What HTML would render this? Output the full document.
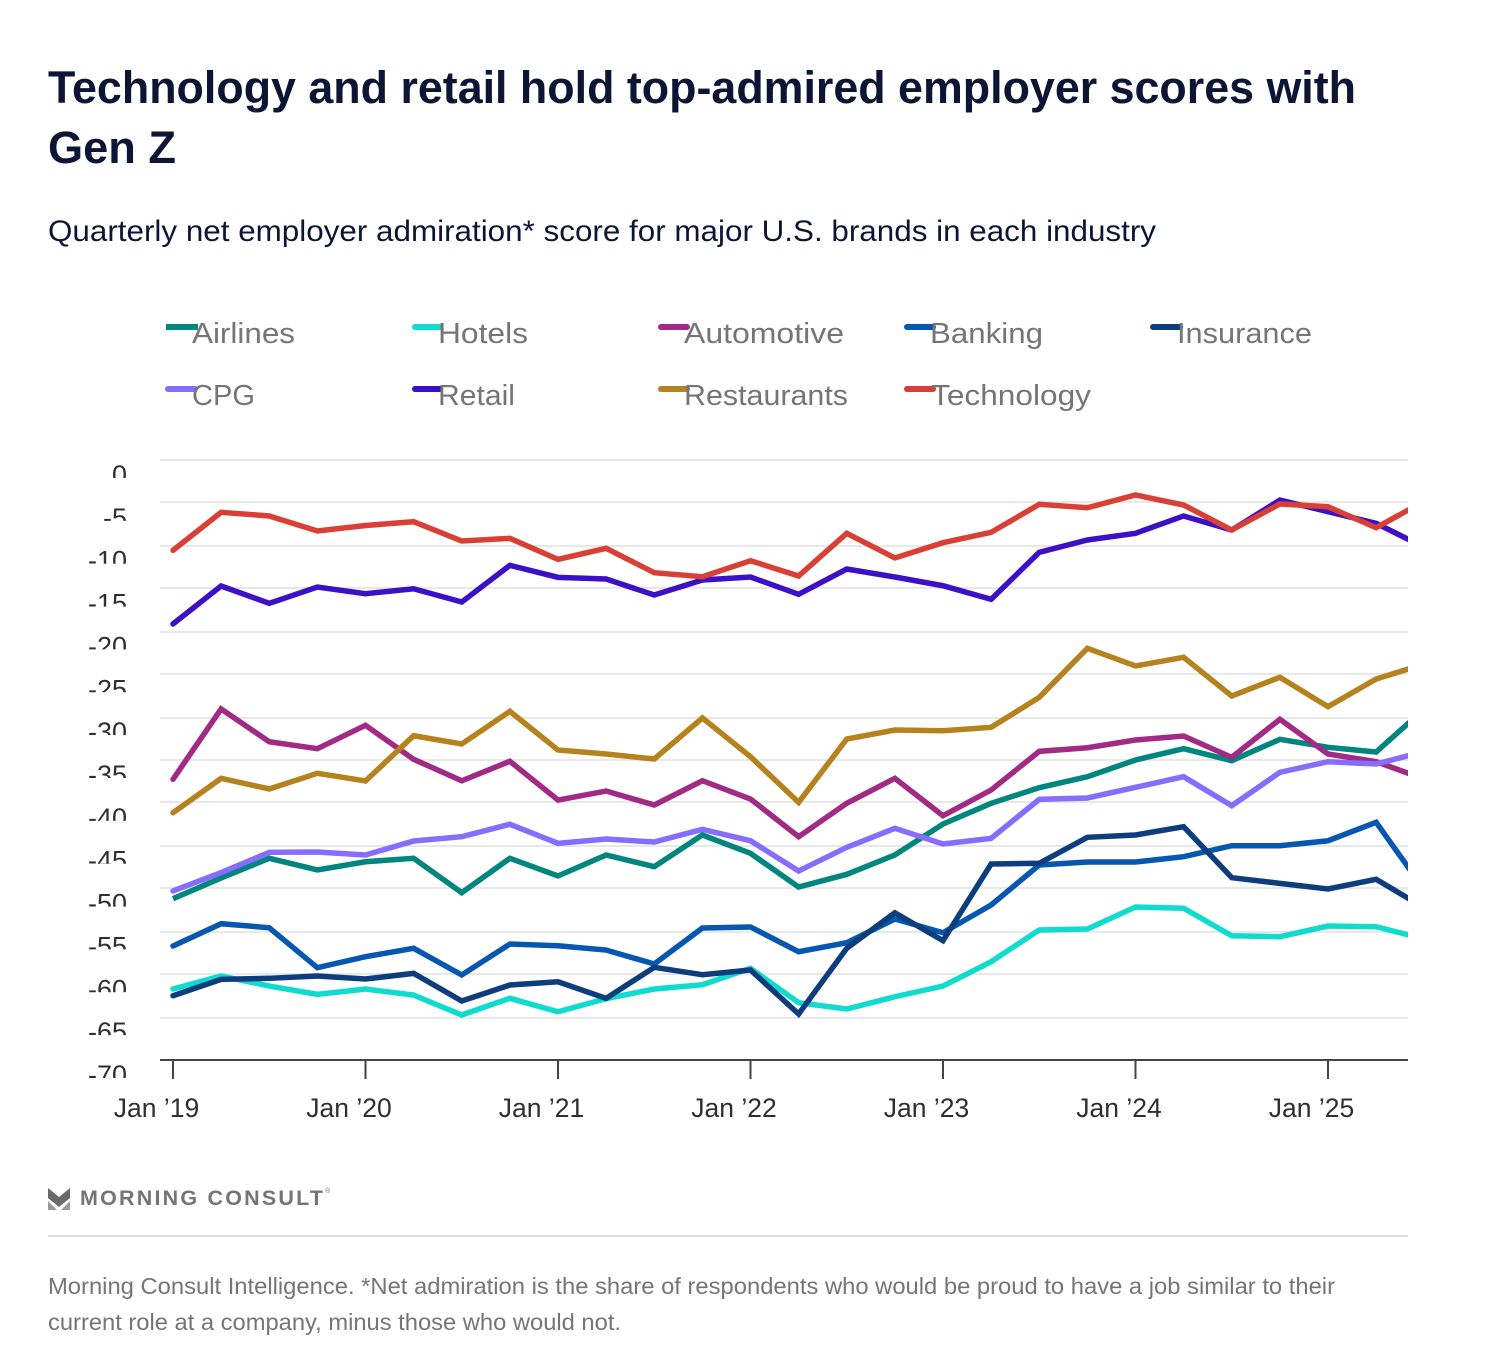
<!DOCTYPE html>
<html lang="en">
<head>
<meta charset="utf-8">
<title>Technology and retail hold top-admired employer scores with Gen Z</title>
<style>
  html, body { margin: 0; padding: 0; background: #fff; }
  svg { display: block; font-family: "Liberation Sans", Arial, sans-serif; }
</style>
</head>
<body>
<svg id="chart" xmlns="http://www.w3.org/2000/svg" width="1488" height="1370" viewBox="0 0 1488 1370">
  <rect x="0" y="0" width="1488" height="1370" fill="#ffffff"/>
  <text x="48" y="103" font-size="45" font-weight="700" fill="#0c1534" textLength="1308" lengthAdjust="spacingAndGlyphs">Technology and retail hold top-admired employer scores with</text>
  <text x="48" y="163" font-size="45" font-weight="700" fill="#0c1534" textLength="128" lengthAdjust="spacingAndGlyphs">Gen Z</text>
  <text x="48" y="241" font-size="30" fill="#0c1534" textLength="1108" lengthAdjust="spacingAndGlyphs">Quarterly net employer admiration* score for major U.S. brands in each industry</text>

  <g font-size="29" fill="#757575">
    <g>
      <line x1="166" y1="327" x2="198" y2="327" stroke="#00857f" stroke-width="6"/>
      <text x="192" y="343" textLength="103" lengthAdjust="spacingAndGlyphs">Airlines</text>
    </g>
    <g>
      <line x1="415" y1="327" x2="440" y2="327" stroke="#10dbcf" stroke-width="6" stroke-linecap="round"/>
      <text x="438" y="343" textLength="90" lengthAdjust="spacingAndGlyphs">Hotels</text>
    </g>
    <g>
      <line x1="661" y1="327" x2="687" y2="327" stroke="#a12a85" stroke-width="6" stroke-linecap="round"/>
      <text x="684" y="343" textLength="160" lengthAdjust="spacingAndGlyphs">Automotive</text>
    </g>
    <g>
      <line x1="907" y1="327" x2="933" y2="327" stroke="#0557b0" stroke-width="6" stroke-linecap="round"/>
      <text x="930" y="343" textLength="113" lengthAdjust="spacingAndGlyphs">Banking</text>
    </g>
    <g>
      <line x1="1153" y1="327" x2="1180" y2="327" stroke="#0d3d7c" stroke-width="6" stroke-linecap="round"/>
      <text x="1177" y="343" textLength="135" lengthAdjust="spacingAndGlyphs">Insurance</text>
    </g>
    <g>
      <line x1="168" y1="389" x2="195" y2="389" stroke="#866cff" stroke-width="6" stroke-linecap="round"/>
      <text x="192" y="405" textLength="63" lengthAdjust="spacingAndGlyphs">CPG</text>
    </g>
    <g>
      <line x1="415" y1="389" x2="440" y2="389" stroke="#3d10c7" stroke-width="6" stroke-linecap="round"/>
      <text x="438" y="405" textLength="77" lengthAdjust="spacingAndGlyphs">Retail</text>
    </g>
    <g>
      <line x1="661" y1="389" x2="687" y2="389" stroke="#b5821d" stroke-width="6" stroke-linecap="round"/>
      <text x="684" y="405" textLength="164" lengthAdjust="spacingAndGlyphs">Restaurants</text>
    </g>
    <g>
      <line x1="907" y1="389" x2="933" y2="389" stroke="#d94035" stroke-width="6" stroke-linecap="round"/>
      <text x="931" y="405" textLength="160" lengthAdjust="spacingAndGlyphs">Technology</text>
    </g>
  </g>

  <defs>
    <clipPath id="plot-clip"><rect x="160" y="440" width="1248" height="640"/></clipPath>
  </defs>
  <g id="y-axis"></g>
  <g id="x-axis"></g>
  <g id="series" clip-path="url(#plot-clip)"></g>

  <g>
    <polygon points="48,1188 59,1197 70,1188 70,1198 59,1207 48,1198" fill="#6a6a6a"/>
    <polygon points="48,1201 57,1210 48,1210" fill="#9a9a9a"/>
    <polygon points="70,1201 61,1210 70,1210" fill="#9a9a9a"/>
    <text x="80" y="1205" font-size="21.5" font-weight="700" fill="#757575" textLength="243" lengthAdjust="spacing">MORNING CONSULT</text>
    <text x="325" y="1193" font-size="7" fill="#757575">®</text>
  </g>
  <line x1="48" y1="1236" x2="1408" y2="1236" stroke="#dcdcdc" stroke-width="2"/>
  <text x="48" y="1294" font-size="23" fill="#757575" textLength="1287" lengthAdjust="spacingAndGlyphs">Morning Consult Intelligence. *Net admiration is the share of respondents who would be proud to have a job similar to their</text>
  <text x="48" y="1330" font-size="23" fill="#757575" textLength="573" lengthAdjust="spacingAndGlyphs">current role at a company, minus those who would not.</text>
</svg>

<script>
// ---- Chart data ----
const quarterCount = 27;
const yTickValues = [0, -5, -10, -15, -20, -25, -30, -35, -40, -45, -50, -55, -60, -65, -70];
const xTickIndices = [0, 4, 8, 12, 16, 20, 24];
const xTickLabels = ["Jan ’19", "Jan ’20", "Jan ’21", "Jan ’22", "Jan ’23", "Jan ’24", "Jan ’25"];

const airlines = [-51.18,-48.77,-46.47,-47.83,-46.87,-46.47,-50.48,-46.47,-48.53,-46.08,-47.45,-43.75,-45.89,-49.82,-48.34,-46.08,-42.47,-40.05,-38.23,-36.95,-35.00,-33.68,-35.08,-32.59,-33.52,-34.07,-29.05];
const hotels = [-61.72,-60.20,-61.37,-62.34,-61.72,-62.42,-64.75,-62.80,-64.37,-62.84,-61.72,-61.22,-59.30,-63.32,-64.05,-62.62,-61.37,-58.53,-54.83,-54.72,-52.15,-52.30,-55.50,-55.62,-54.37,-54.45,-55.88];
const automotive = [-37.25,-29.05,-32.87,-33.68,-30.95,-34.92,-37.42,-35.15,-39.67,-38.62,-40.25,-37.42,-39.55,-43.95,-40.05,-37.14,-41.50,-38.50,-33.99,-33.57,-32.67,-32.20,-34.69,-30.25,-34.30,-35.20,-37.22];
const banking = [-56.70,-54.10,-54.57,-59.23,-57.95,-56.97,-60.08,-56.47,-56.67,-57.17,-58.80,-54.60,-54.48,-57.37,-56.32,-53.55,-55.15,-51.92,-47.25,-46.90,-46.90,-46.28,-45.00,-45.00,-44.42,-42.27,-50.14];
const insurance = [-62.50,-60.59,-60.47,-60.20,-60.55,-59.89,-63.12,-61.25,-60.87,-62.80,-59.19,-60.05,-59.50,-64.63,-56.97,-52.82,-56.08,-47.13,-47.05,-44.02,-43.75,-42.78,-48.73,-49.39,-50.05,-48.92,-52.24];
const cpg = [-50.28,-48.13,-45.77,-45.73,-46.08,-44.45,-43.95,-42.50,-44.72,-44.22,-44.57,-43.09,-44.42,-47.95,-45.19,-42.97,-44.80,-44.14,-39.59,-39.43,-38.19,-36.95,-40.33,-36.44,-35.20,-35.47,-34.01];
const retail = [-19.13,-14.70,-16.72,-14.82,-15.60,-15.02,-16.57,-12.29,-13.69,-13.88,-15.75,-14.00,-13.65,-15.67,-12.72,-13.65,-14.67,-16.25,-10.77,-9.33,-8.55,-6.53,-8.17,-4.67,-6.03,-7.39,-10.19];
const restaurants = [-41.15,-37.14,-38.38,-36.55,-37.45,-32.17,-33.13,-29.32,-33.83,-34.30,-34.88,-30.10,-34.62,-39.94,-32.55,-31.50,-31.58,-31.19,-27.69,-21.97,-24.03,-23.02,-27.53,-25.35,-28.78,-25.55,-23.80];
const technology = [-10.54,-6.10,-6.53,-8.28,-7.64,-7.20,-9.45,-9.14,-11.59,-10.30,-13.15,-13.62,-11.75,-13.53,-8.55,-11.43,-9.65,-8.44,-5.17,-5.57,-4.08,-5.25,-8.17,-5.13,-5.45,-7.90,-4.81];

const seriesKeys = ["airlines","hotels","automotive","banking","insurance","cpg","retail","restaurants","technology"];
const seriesValues = [airlines,hotels,automotive,banking,insurance,cpg,retail,restaurants,technology];
const seriesColors = ["#00857f","#10dbcf","#a12a85","#0557b0","#0d3d7c","#866cff","#3d10c7","#b5821d","#d94035"];

// ---- Axis functions ----
const NS = "http://www.w3.org/2000/svg";
function xScale(i) { return 173 + i * 48.125; }
function yScale(v) { return 460 + (0 - v) * (600 / 70); }
function snap(y) { return Math.round(y / 2) * 2; }

const yAxis = document.getElementById("y-axis");
yTickValues.forEach(function (v) {
  const y = yScale(v);
  if (v !== -70) {
    const grid = document.createElementNS(NS, "line");
    
    
    grid.setAttribute("x1", 160);
    grid.setAttribute("x2", 1408);
    grid.setAttribute("y1", snap(y));
    grid.setAttribute("y2", snap(y));
    grid.setAttribute("stroke", "#e8e8e8");
    grid.setAttribute("stroke-width", 2);
    yAxis.appendChild(grid);
  }
  const clip = document.createElementNS(NS, "svg");
  
  
  clip.setAttribute("x", 60);
  clip.setAttribute("y", y - 10);
  clip.setAttribute("width", 80);
  clip.setAttribute("height", 28);
  const label = document.createElementNS(NS, "text");
  
  
  label.setAttribute("x", 67);
  label.setAttribute("y", 34);
  label.setAttribute("text-anchor", "end");
  label.setAttribute("font-size", 27);
  label.setAttribute("fill", "#2f2f2f");
  label.textContent = String(v);
  clip.appendChild(label);
  yAxis.appendChild(clip);
});

const xAxis = document.getElementById("x-axis");
const baseline = document.createElementNS(NS, "line");


baseline.setAttribute("x1", 160);
baseline.setAttribute("x2", 1408);
baseline.setAttribute("y1", 1060);
baseline.setAttribute("y2", 1060);
baseline.setAttribute("stroke", "#444444");
baseline.setAttribute("stroke-width", 2);
xAxis.appendChild(baseline);
xTickIndices.forEach(function (idx, n) {
  const x = xScale(idx);
  const tick = document.createElementNS(NS, "line");
  
  
  tick.setAttribute("x1", x);
  tick.setAttribute("x2", x);
  tick.setAttribute("y1", 1060);
  tick.setAttribute("y2", 1079);
  tick.setAttribute("stroke", "#444444");
  tick.setAttribute("stroke-width", 2);
  xAxis.appendChild(tick);
  const label = document.createElementNS(NS, "text");
  
  
  label.setAttribute("x", x - 16.5);
  label.setAttribute("y", 1117);
  label.setAttribute("text-anchor", "middle");
  label.setAttribute("font-size", 26.5);
  label.setAttribute("fill", "#2f2f2f");
  label.textContent = xTickLabels[n];
  xAxis.appendChild(label);
});

const seriesGroup = document.getElementById("series");
seriesKeys.forEach(function (key, s) {
  const points = seriesValues[s].slice(0, quarterCount).map(function (v, i) {
    return xScale(i).toFixed(2) + "," + yScale(v).toFixed(2);
  }).join(" ");
  const line = document.createElementNS(NS, "polyline");
  
  
  line.setAttribute("points", points);
  line.setAttribute("fill", "none");
  line.setAttribute("stroke", seriesColors[s]);
  line.setAttribute("stroke-width", 5.5);
  line.setAttribute("stroke-linejoin", "miter");
  line.setAttribute("stroke-linecap", key === "airlines" ? "butt" : "round");
  seriesGroup.appendChild(line);
});
</script>
</body>
</html>
